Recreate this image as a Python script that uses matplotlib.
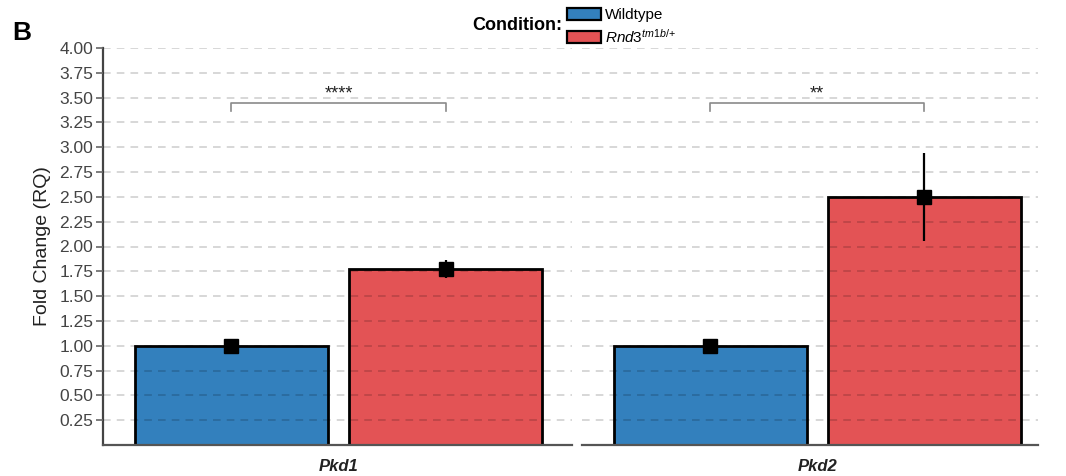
import matplotlib
matplotlib.use("Agg")
import matplotlib.pyplot as plt
from matplotlib.patches import Patch

plt.rcParams['font.family'] = ['Liberation Sans', 'DejaVu Sans']
plt.rcParams['mathtext.fontset'] = 'custom'
plt.rcParams['mathtext.rm'] = 'Liberation Sans'
plt.rcParams['mathtext.it'] = 'Liberation Sans:italic'

# data
genes = ['Pkd1', 'Pkd2']
conditions = ['Wildtype', r'$\mathit{Rnd3}^{tm1b/{+}}$']
colors = ['#3380bd', '#e35355']
means = [[1.00, 1.77], [1.00, 2.50]]
errs = [[0.0, 0.09], [0.0, 0.44]]
signif = ['****', '**']
bracket_y = 3.45
yticks = [0.25, 0.5, 0.75, 1.0, 1.25, 1.5, 1.75, 2.0, 2.25, 2.5, 2.75, 3.0, 3.25, 3.5, 3.75, 4.0]

W, H = 1066, 476
fig = plt.figure(figsize=(W / 100, H / 100), dpi=100)

# facet boxes in pixels: (left, right), xlim
facets = [((103, 572), (-0.60, 1.59)), ((582, 1038), (-0.598, 1.53))]
bottom_px, top_px = 445, 48

axes = []
for i, ((l, r), xl) in enumerate(facets):
    ax = fig.add_axes([l / W, 1 - bottom_px / H, (r - l) / W, (bottom_px - top_px) / H])
    axes.append(ax)
    xs = [0, 1]
    ax.bar(xs, means[i], width=0.9, color=colors, edgecolor='black', linewidth=2.0, zorder=1)
    ax.errorbar(xs, means[i], yerr=errs[i], fmt='s', ms=10, color='black',
                elinewidth=1.6, capsize=0, zorder=4)
    # significance bracket
    ax.plot([0, 0, 1, 1], [bracket_y - 0.08, bracket_y, bracket_y, bracket_y - 0.08],
            color='#8a8a8a', lw=1.2, zorder=4)
    ax.text(0.5, bracket_y + 0.04, signif[i], ha='center', va='baseline', fontsize=13, color='#222')

    ax.set_xlim(*xl)
    ax.set_ylim(0, 4.0)
    ax.set_yticks(yticks)
    ax.yaxis.grid(True, color='black', alpha=0.2, linestyle=(0, (5, 4)), linewidth=1.1)
    ax.set_axisbelow(False)
    ax.set_xticks([0.5])
    ax.set_xticklabels([genes[i]], fontsize=12, fontweight='bold', style='italic', color='#222')
    ax.tick_params(axis='x', length=0, pad=10)
    for s in ['top', 'right']:
        ax.spines[s].set_visible(False)
    ax.spines['bottom'].set_color('#555555')
    ax.spines['bottom'].set_linewidth(1.6)
    if i == 0:
        ax.spines['left'].set_color('#444444')
        ax.spines['left'].set_linewidth(1.6)
        ax.set_yticklabels([f'{v:.2f}' for v in yticks], fontsize=12.5, color='#444444')
        ax.tick_params(axis='y', length=5, width=1.2, color='#666666', pad=2)
        ax.set_ylabel('Fold Change (RQ)', fontsize=14, color='#222', labelpad=6)
    else:
        ax.spines['left'].set_visible(False)
        ax.tick_params(axis='y', length=0, labelleft=False)

fig.text(12 / W, 1 - 33 / H, 'B', fontsize=19, fontweight='bold', va='center', ha='left')
fig.text(562 / W, 1 - 25 / H, 'Condition:', fontsize=13, fontweight='bold', va='center', ha='right')
handles = [Patch(facecolor=c, edgecolor='black', linewidth=1.6) for c in colors]
fig.legend(handles, conditions, loc='upper left', bbox_to_anchor=(564 / W, 1 - 5 / H),
           frameon=False, fontsize=11, handlelength=2.2, handleheight=0.8,
           handletextpad=0.3, labelspacing=0.35, borderpad=0.2, borderaxespad=0)

fig.savefig('out.png', dpi=100)
